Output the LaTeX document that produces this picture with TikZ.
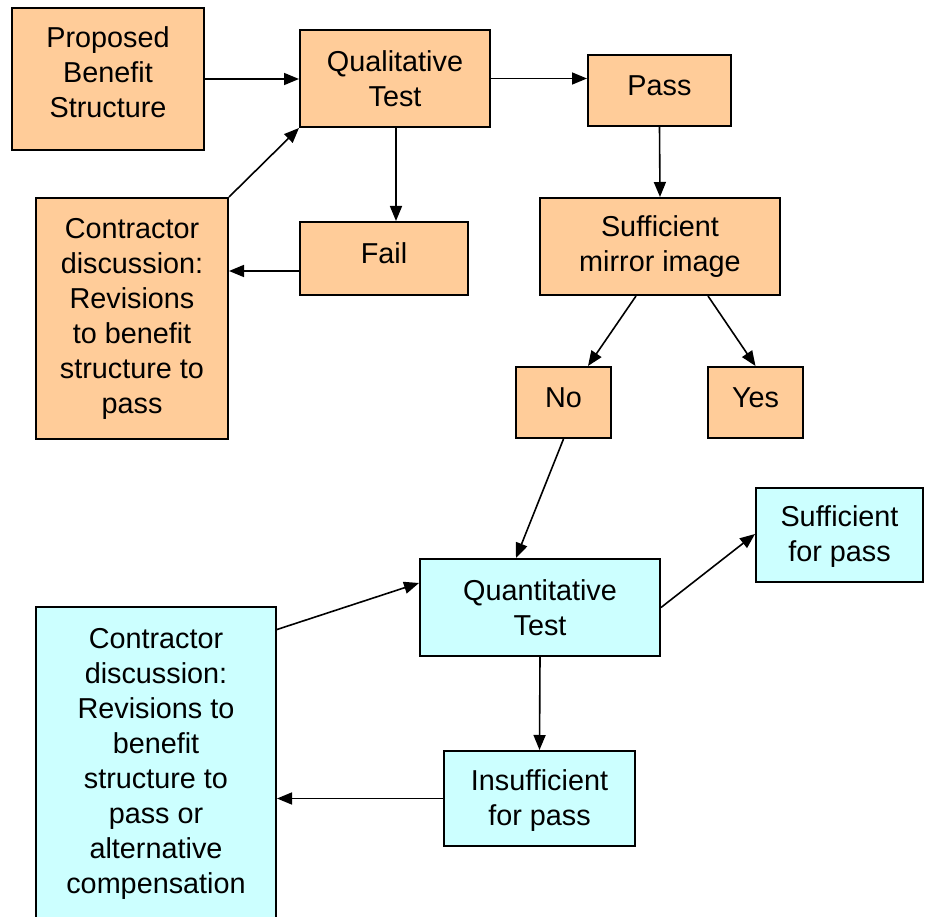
\documentclass[tikz,border=0pt]{standalone}
\usepackage{fontspec}
\setmainfont{Liberation Sans}
\usetikzlibrary{arrows.meta}
\definecolor{boxorange}{HTML}{FFCC99}
\definecolor{boxcyan}{HTML}{CCFFFF}
\begin{document}
\begin{tikzpicture}[x=1pt,y=-1pt,
  box/.style={draw=black, line width=2pt, inner sep=0pt, align=center,
    font=\fontsize{28.8}{35}\selectfont},
  obox/.style={box, fill=boxorange},
  cbox/.style={box, fill=boxcyan},
  arr/.style={line width=1.6pt, -{Triangle[length=15pt,width=12pt]}}]
\useasboundingbox (0,0) rectangle (935,917);
\clip (0,0) rectangle (935,917);
% orange boxes
\node[obox, minimum width=192pt, minimum height=142pt, text depth=14pt] (prop) at (108,79) {Proposed\\Benefit\\Structure};
\node[obox, minimum width=190pt, minimum height=97pt] (qual) at (395,78.5) {Qualitative\\Test};
\node[obox, minimum width=143pt, minimum height=71pt, text depth=10pt] (pass) at (659.5,90.5) {Pass};
\node[obox, minimum width=192pt, minimum height=241pt] (contrA) at (132,318.5) {Contractor\\discussion:\\Revisions\\to benefit\\structure to\\pass};
\node[obox, minimum width=168pt, minimum height=73pt, text depth=10pt] (fail) at (384,258.5) {Fail};
\node[obox, minimum width=240pt, minimum height=97pt] (mirror) at (660,246.5) {Sufficient\\mirror image};
\node[obox, minimum width=95pt, minimum height=71pt, text depth=10pt] (no) at (563.5,402.5) {No};
\node[obox, minimum width=95pt, minimum height=71pt, text depth=10pt] (yes) at (755.5,402.5) {Yes};
% cyan boxes
\node[cbox, minimum width=240pt, minimum height=97pt] (quant) at (540,607.5) {Quantitative\\Test};
\node[cbox, minimum width=167pt, minimum height=94pt, text depth=2pt] (suff) at (839.5,535) {Sufficient\\for pass};
\node[cbox, minimum width=240pt, minimum height=313pt] (contrB) at (156,763.5) {Contractor\\discussion:\\Revisions to\\benefit\\structure to\\pass or\\alternative\\compensation};
\node[cbox, minimum width=191pt, minimum height=95pt, text depth=1pt] (insuff) at (539.5,798.5) {Insufficient\\for pass};
% helper coordinates
\coordinate (f1) at ([yshift=-12.5pt]fail.west);
\coordinate (c1) at ([yshift=-23.5pt]contrB.north east);
% connectors
\draw[arr] (prop.east) -- (prop.east -| qual.west);
\draw[arr] (qual.east) -- (qual.east -| pass.west);
\draw[arr] (pass.south) -- (mirror.north);
\draw[arr] ([xshift=1pt]qual.south) -- ([xshift=1pt]qual.south |- fail.north);
\draw[arr] (f1) -- (f1 -| contrA.east);
\draw[arr] (contrA.north east) -- (qual.south west);
\draw[arr] ([xshift=-24pt]mirror.south) -- ([xshift=24.5pt]no.north);
\draw[arr] ([xshift=48pt]mirror.south) -- (yes.north);
\draw[arr] (no.south) -- ([xshift=-24pt]quant.north);
\draw[arr] (quant.east) -- ([yshift=1pt]suff.west);
\draw[arr] (c1) -- ([yshift=24.5pt]quant.west);
\draw[arr] (quant.south) -- (insuff.north);
\draw[arr] (insuff.west) -- (insuff.west -| contrB.east);
\end{tikzpicture}
\end{document}
